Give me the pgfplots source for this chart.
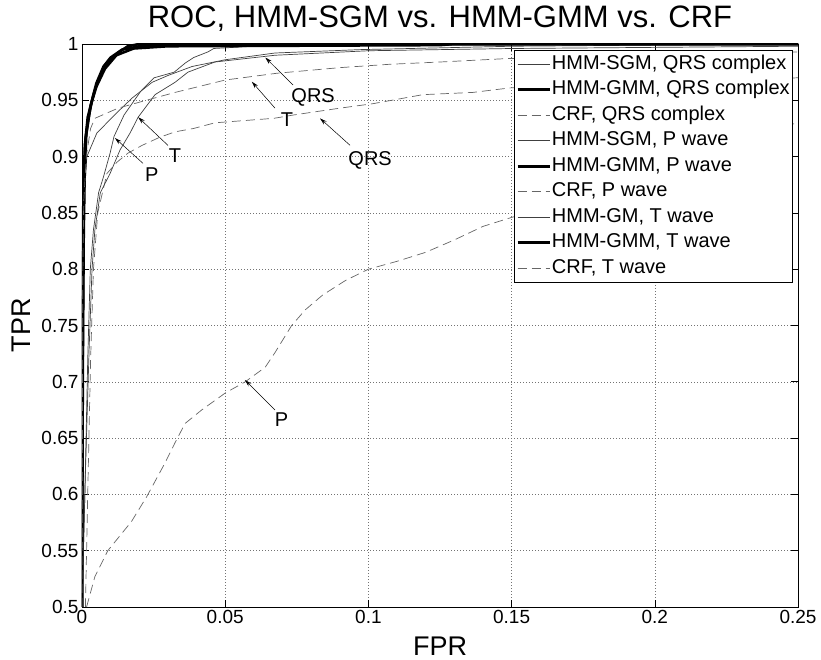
\documentclass[border=0pt]{standalone}
\usepackage{fontspec}
\setmainfont{Liberation Sans}
\usepackage{pgfplots}
\pgfplotsset{compat=1.18}
\usetikzlibrary{arrows.meta}
\begin{document}
\begin{tikzpicture}
\begin{axis}[
  at={(0,0)}, anchor=south west,
  width=716pt, height=563pt, scale only axis,
  xmin=0, xmax=0.25, ymin=0.5, ymax=1,
  xtick={0,0.05,0.1,0.15,0.2,0.25},
  xticklabels={0,0.05,0.1,0.15,0.2,0.25},
  ytick={0.5,0.55,0.6,0.65,0.7,0.75,0.8,0.85,0.9,0.95,1},
  yticklabels={0.5,0.55,0.6,0.65,0.7,0.75,0.8,0.85,0.9,0.95,1},
  /pgf/number format/assume math mode=true,
  tick label style={font=\fontsize{19}{22}\selectfont},
  tick align=inside, major tick length=7pt,
  tick style={black, line width=0.6pt},
  axis line style={black, line width=0.9pt},
  grid=major,
  grid style={black!55, line width=0.5pt, dash pattern=on 1pt off 2pt},
  title={ROC, HMM-SGM vs. HMM-GMM vs. CRF},
  title style={font=\fontsize{31}{34}\selectfont, at={(axis description cs:0.5,1.0195)}, anchor=base},
  xlabel={FPR},
  xlabel style={font=\fontsize{27}{30}\selectfont, at={(axis description cs:0.5,-0.0853)}, anchor=base},
  ylabel={TPR},
  ylabel style={font=\fontsize{27}{30}\selectfont, at={(axis description cs:-0.0726,0.5)}, anchor=base, rotate=0},
  legend style={at={(axis description cs:0.993,0.989)}, anchor=north east,
    font=\fontsize{20}{24}\selectfont, draw=black, line width=0.6pt, fill=white,
    inner xsep=2pt, inner ysep=1pt, row sep=0pt,
    nodes={text height=15pt, text depth=4.5pt, inner ysep=3pt, inner xsep=1pt}},
  legend cell align=left,
  legend image code/.code={\draw[#1] (0pt,0pt) -- (32pt,0pt);},
  thin/.style={black!75, line width=0.7pt},
  thick/.style={black, line width=2.6pt},
  dsh/.style={black!60, line width=0.7pt, dash pattern=on 9pt off 5pt},
]
% HMM-SGM, QRS complex
\addplot[thin] coordinates {(0,0.5) (0.0003,0.73) (0.0006,0.86) (0.0017,0.9) (0.0052,0.921) (0.0087,0.93) (0.0126,0.94) (0.0175,0.952) (0.0245,0.966) (0.03,0.972) (0.0384,0.98) (0.05,0.986) (0.0674,0.992) (0.097,0.995) (0.15,0.998) (0.2,0.999) (0.25,1)};
\addlegendentry{HMM-SGM, QRS complex}
% HMM-GMM, QRS complex
\addplot[thick] coordinates {(0,0.5) (0.0002,0.7) (0.0004,0.8) (0.0006,0.86) (0.0008,0.885) (0.0012,0.915) (0.0023,0.935) (0.0035,0.95) (0.005,0.965) (0.0075,0.98) (0.01,0.988) (0.014,0.995) (0.02,0.998) (0.03,0.999) (0.045,1) (0.25,1)};
\addlegendentry{HMM-GMM, QRS complex}
% CRF, QRS complex
\addplot[dsh] coordinates {(0.0012,0.5) (0.002,0.6) (0.003,0.72) (0.004,0.8) (0.0055,0.85) (0.0087,0.885) (0.0122,0.895) (0.016,0.903) (0.021,0.91) (0.027,0.917) (0.0325,0.922) (0.039,0.925) (0.0464,0.93) (0.067,0.934) (0.074,0.937) (0.09,0.943) (0.1016,0.947) (0.119,0.955) (0.1365,0.957) (0.1494,0.961) (0.2,0.965) (0.25,0.97)};
\addlegendentry{CRF, QRS complex}
% HMM-SGM, P wave
\addplot[thin] coordinates {(0,0.5) (0.001,0.6) (0.002,0.72) (0.0029,0.8) (0.004,0.835) (0.0058,0.868) (0.0075,0.882) (0.0098,0.903) (0.0112,0.918) (0.0147,0.937) (0.0205,0.958) (0.0252,0.97) (0.0322,0.975) (0.036,0.983) (0.039,0.988) (0.044,0.993) (0.046,0.996) (0.06,0.998) (0.1,0.999) (0.25,1)};
\addlegendentry{HMM-SGM, P wave}
% HMM-GMM, P wave
\addplot[thick] coordinates {(0,0.5) (0.0003,0.72) (0.0006,0.83) (0.0009,0.88) (0.0015,0.92) (0.003,0.945) (0.005,0.962) (0.008,0.978) (0.012,0.99) (0.018,0.996) (0.03,0.998) (0.125,0.999) (0.13,1) (0.25,1)};
\addlegendentry{HMM-GMM, P wave}
% CRF, P wave
\addplot[dsh] coordinates {(0.0016,0.5) (0.0045,0.527) (0.009,0.55) (0.0173,0.576) (0.0226,0.598) (0.029,0.628) (0.0325,0.646) (0.036,0.663) (0.0418,0.675) (0.05,0.69) (0.057,0.70) (0.064,0.713) (0.0674,0.726) (0.0732,0.75) (0.078,0.764) (0.084,0.777) (0.092,0.79) (0.1,0.8) (0.11,0.807) (0.12,0.815) (0.13,0.826) (0.14,0.838) (0.15,0.846) (0.153,0.848) (0.17,0.87) (0.2,0.9) (0.25,0.93)};
\addlegendentry{CRF, P wave}
% HMM-GM, T wave
\addplot[thin] coordinates {(0,0.5) (0.0012,0.62) (0.0025,0.73) (0.0035,0.8) (0.0045,0.835) (0.0064,0.868) (0.0098,0.885) (0.0133,0.906) (0.0168,0.921) (0.0196,0.935) (0.0255,0.955) (0.0325,0.966) (0.037,0.975) (0.0464,0.984) (0.0674,0.99) (0.1,0.994) (0.15,0.996) (0.25,0.998)};
\addlegendentry{HMM-GM, T wave}
% HMM-GMM, T wave
\addplot[thick] coordinates {(0,0.5) (0.0001,0.75) (0.0005,0.87) (0.001,0.91) (0.002,0.935) (0.004,0.955) (0.006,0.97) (0.009,0.984) (0.013,0.993) (0.016,0.998) (0.02,1) (0.25,1)};
\addlegendentry{HMM-GMM, T wave}
% CRF, T wave
\addplot[dsh] coordinates {(0,0.5) (0.0003,0.8) (0.0006,0.86) (0.0015,0.9) (0.003,0.925) (0.0045,0.934) (0.0126,0.943) (0.021,0.949) (0.0325,0.957) (0.05,0.968) (0.068,0.974) (0.09,0.979) (0.1075,0.982) (0.125,0.984) (0.148,0.987) (0.2,0.99) (0.25,0.993)};
\addlegendentry{CRF, T wave}
% annotations
\begin{scope}[font=\fontsize{20}{24}\selectfont]
\draw[-{Stealth[length=7pt,width=4pt]}, line width=0.5pt] (axis cs:0.0737,0.9636) -- (axis cs:0.064,0.988);
\node at (axis cs:0.0807,0.953) {QRS};
\draw[-{Stealth[length=7pt,width=4pt]}, line width=0.5pt] (axis cs:0.0674,0.943) -- (axis cs:0.0593,0.9665);
\node at (axis cs:0.0716,0.9325) {T};
\draw[-{Stealth[length=7pt,width=4pt]}, line width=0.5pt] (axis cs:0.0936,0.910) -- (axis cs:0.0831,0.934);
\node at (axis cs:0.1006,0.897) {QRS};
\draw[-{Stealth[length=7pt,width=4pt]}, line width=0.5pt] (axis cs:0.030,0.910) -- (axis cs:0.0196,0.935);
\node at (axis cs:0.0325,0.901) {T};
\draw[-{Stealth[length=7pt,width=4pt]}, line width=0.5pt] (axis cs:0.0213,0.894) -- (axis cs:0.0115,0.9165);
\node at (axis cs:0.0244,0.884) {P};
\draw[-{Stealth[length=7pt,width=4pt]}, line width=0.5pt] (axis cs:0.0674,0.675) -- (axis cs:0.0569,0.7016);
\node at (axis cs:0.0697,0.666) {P};
\end{scope}
\end{axis}
\pgfresetboundingbox
\path[use as bounding box] (-82pt,-53pt) rectangle (739pt,607pt);
\end{tikzpicture}
\end{document}
